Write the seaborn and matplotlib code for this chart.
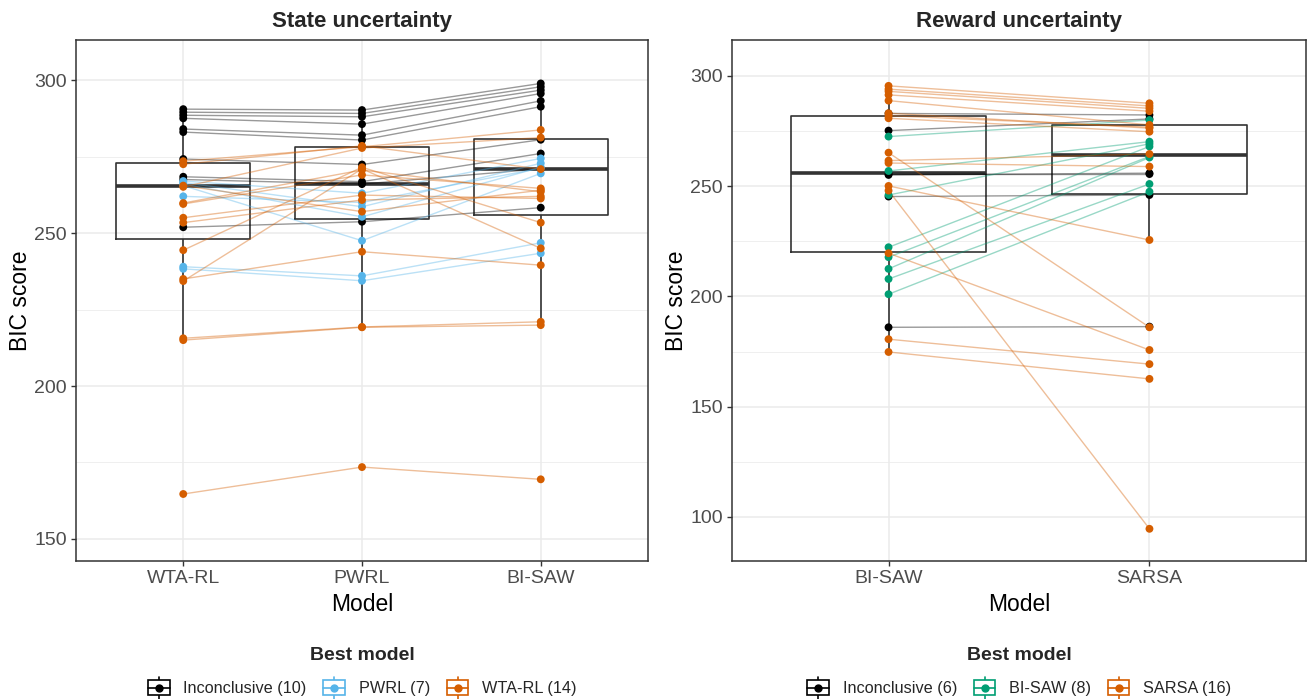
import numpy as np
import pandas as pd
import matplotlib
matplotlib.use("Agg")
import matplotlib.pyplot as plt
import seaborn as sns
from matplotlib.lines import Line2D
from matplotlib.patches import Rectangle
from matplotlib.legend_handler import HandlerBase
from matplotlib.ticker import MultipleLocator

# ---- State uncertainty: BIC per participant for WTA-RL, PWRL, BI-SAW ----
state_models = ["WTA-RL", "PWRL", "BI-SAW"]
state_best_order = ["Inconclusive", "PWRL", "WTA-RL"]
state_labels = ["Inconclusive (10)", "PWRL (7)", "WTA-RL (14)"]

state_inc_wta = [290.5, 289.5, 288.5, 287.5, 284.0, 283.0, 274.2, 268.4, 267.5, 251.9]
state_inc_pwrl = [290.2, 289.1, 288.0, 285.6, 282.0, 280.4, 272.4, 266.8, 266.0, 253.7]
state_inc_bisaw = [298.9, 297.8, 296.7, 295.6, 293.2, 291.3, 280.5, 276.0, 271.0, 258.3]

state_pwrl_wta = [239.0, 238.3, 267.0, 266.5, 266.0, 265.5, 262.0]
state_pwrl_pwrl = [236.0, 234.4, 263.0, 258.6, 255.3, 247.5, 260.0]
state_pwrl_bisaw = [246.8, 243.4, 274.4, 272.8, 271.5, 269.5, 271.2]

state_wta_wta = [273.5, 265.1, 272.5, 259.5, 259.8, 255.0, 253.4, 244.4, 234.3, 235.0, 215.6, 215.0, 265.5, 164.7]
state_wta_pwrl = [278.2, 277.8, 278.5, 269.0, 270.6, 262.4, 260.8, 271.5, 271.0, 243.9, 219.3, 219.2, 257.0, 173.5]
state_wta_bisaw = [283.7, 281.2, 270.9, 264.6, 263.5, 261.3, 262.0, 253.4, 245.0, 239.5, 221.0, 219.9, 264.0, 169.5]

# ---- Reward uncertainty: BIC per participant for BI-SAW, SARSA ----
reward_models = ["BI-SAW", "SARSA"]
reward_best_order = ["Inconclusive", "BI-SAW", "SARSA"]
reward_labels = ["Inconclusive (6)", "BI-SAW (8)", "SARSA (16)"]

reward_inc_bisaw = [283.0, 275.2, 255.1, 255.5, 245.3, 186.0]
reward_inc_sarsa = [282.3, 280.5, 255.9, 255.5, 246.0, 186.3]

reward_bisaw_bisaw = [272.5, 256.9, 246.0, 222.3, 217.8, 212.5, 207.9, 201.0]
reward_bisaw_sarsa = [280.0, 270.2, 269.2, 268.0, 263.5, 263.0, 251.0, 247.5]

reward_sarsa_bisaw = [295.5, 294.0, 293.0, 291.4, 288.8, 283.1, 280.8, 265.2, 261.6, 250.1, 248.0, 219.6, 180.6, 174.8, 260.5, 282.0]
reward_sarsa_sarsa = [287.6, 286.4, 285.3, 284.0, 277.8, 276.3, 274.7, 186.0, 264.6, 225.6, 94.6, 175.7, 169.3, 162.6, 258.9, 276.8]

BLACK = "#000000"
BLUE = "#56B4E9"
ORANGE = "#D55E00"
GREEN = "#009E73"
state_pal = {"Inconclusive": BLACK, "PWRL": BLUE, "WTA-RL": ORANGE}
reward_pal = {"Inconclusive": BLACK, "BI-SAW": GREEN, "SARSA": ORANGE}


def long_table(models, groups):
    rows = []
    pid = 0
    for best, cols in groups:
        for i in range(len(cols[0])):
            for j, m in enumerate(models):
                rows.append({"id": pid, "best": best, "model": m, "xpos": j, "score": cols[j][i]})
            pid += 1
    return pd.DataFrame(rows)


state_df = long_table(state_models, [
    ("Inconclusive", [state_inc_wta, state_inc_pwrl, state_inc_bisaw]),
    ("PWRL", [state_pwrl_wta, state_pwrl_pwrl, state_pwrl_bisaw]),
    ("WTA-RL", [state_wta_wta, state_wta_pwrl, state_wta_bisaw]),
])
reward_df = long_table(reward_models, [
    ("Inconclusive", [reward_inc_bisaw, reward_inc_sarsa]),
    ("BI-SAW", [reward_bisaw_bisaw, reward_bisaw_sarsa]),
    ("SARSA", [reward_sarsa_bisaw, reward_sarsa_sarsa]),
])


class BoxKey(HandlerBase):
    # ggplot-like boxplot legend key with a point in the middle
    def create_artists(self, legend, orig_handle, xdescent, ydescent, width, height, fontsize, trans):
        c = orig_handle.get_color()
        cx = -xdescent + width / 2
        cy = -ydescent + height / 2
        bw = width * 0.95
        bh = height * 0.95
        whisk = Line2D([cx, cx], [cy - height * 0.72, cy + height * 0.72], color=c, lw=1.2, transform=trans)
        box = Rectangle((cx - bw / 2, cy - bh / 2), bw, bh, facecolor="white", edgecolor=c, lw=1.2, transform=trans)
        med = Line2D([cx - bw / 2, cx + bw / 2], [cy, cy], color=c, lw=1.2, transform=trans)
        dot = Line2D([cx], [cy], marker="o", ms=5, color=c, lw=0, transform=trans)
        return [whisk, box, med, dot]


sns.set_theme(style="white")
plt.rcParams["font.family"] = ["Liberation Sans", "DejaVu Sans"]

fig = plt.figure(figsize=(13.09, 6.99), dpi=100)
ax1 = fig.add_axes([76 / 1309, 1 - 561 / 699, 572 / 1309, 521 / 699])
ax2 = fig.add_axes([732 / 1309, 1 - 561 / 699, 574 / 1309, 521 / 699])


def draw_panel(ax, df, models, pal, best_order, title, ylim, xlim):
    sns.boxplot(data=df, x="model", y="score", order=models, fill=False, color="#333333",
                width=0.75, linewidth=1.2, showfliers=False,
                medianprops={"linewidth": 2.6}, capprops={"visible": False}, ax=ax)
    sns.lineplot(data=df, x="xpos", y="score", hue="best", hue_order=best_order, units="id",
                 estimator=None, palette=pal, alpha=0.4, lw=1.0, legend=False, ax=ax, zorder=3)
    sns.scatterplot(data=df, x="xpos", y="score", hue="best", hue_order=best_order, palette=pal,
                    s=32, linewidth=0, legend=False, ax=ax, zorder=4)
    ax.set_xticks(range(len(models)))
    ax.set_xticklabels(models)
    ax.set_xlim(*xlim)
    ax.set_ylim(*ylim)
    ax.yaxis.set_major_locator(MultipleLocator(50))
    ax.yaxis.set_minor_locator(MultipleLocator(25))
    ax.set_axisbelow(True)
    ax.grid(True, which="major", color="#EBEBEB", lw=1.1)
    ax.grid(True, which="minor", axis="y", color="#EBEBEB", lw=0.55)
    ax.tick_params(which="major", length=3.5, width=1.0, color="#333333", labelsize=14,
                   labelcolor="#4D4D4D", bottom=True, left=True, pad=3)
    ax.tick_params(which="minor", length=0)
    for s in ax.spines.values():
        s.set_color("#333333")
        s.set_linewidth(1.1)
    ax.set_xlabel("Model", fontsize=16.5, color="black", labelpad=4)
    ax.set_ylabel("BIC score", fontsize=16.5, color="black", labelpad=2)
    ax.set_title(title, fontsize=16, fontweight="bold", pad=9)


draw_panel(ax1, state_df, state_models, state_pal, state_best_order, "State uncertainty",
           (142.8, 313.1), (-0.6, 2.6))
draw_panel(ax2, reward_df, reward_models, reward_pal, reward_best_order, "Reward uncertainty",
           (80.0, 316.3), (-0.6, 1.6))


def add_legend(best_order, labels, pal, xc):
    handles = [Line2D([], [], color=pal[b]) for b in best_order]
    leg = fig.legend(handles, labels, loc="lower center", bbox_to_anchor=(xc, -0.017), ncol=3,
                     frameon=False, title="Best model", fontsize=11.7,
                     title_fontproperties={"weight": "bold", "size": 14},
                     handler_map={Line2D: BoxKey()}, handlelength=1.4, handleheight=1.1,
                     handletextpad=0.8, columnspacing=1.0, labelspacing=1.0)
    return leg


add_legend(state_best_order, state_labels, state_pal, 362 / 1309)
add_legend(reward_best_order, reward_labels, reward_pal, 1019 / 1309)

fig.savefig("out.png", dpi=100)
